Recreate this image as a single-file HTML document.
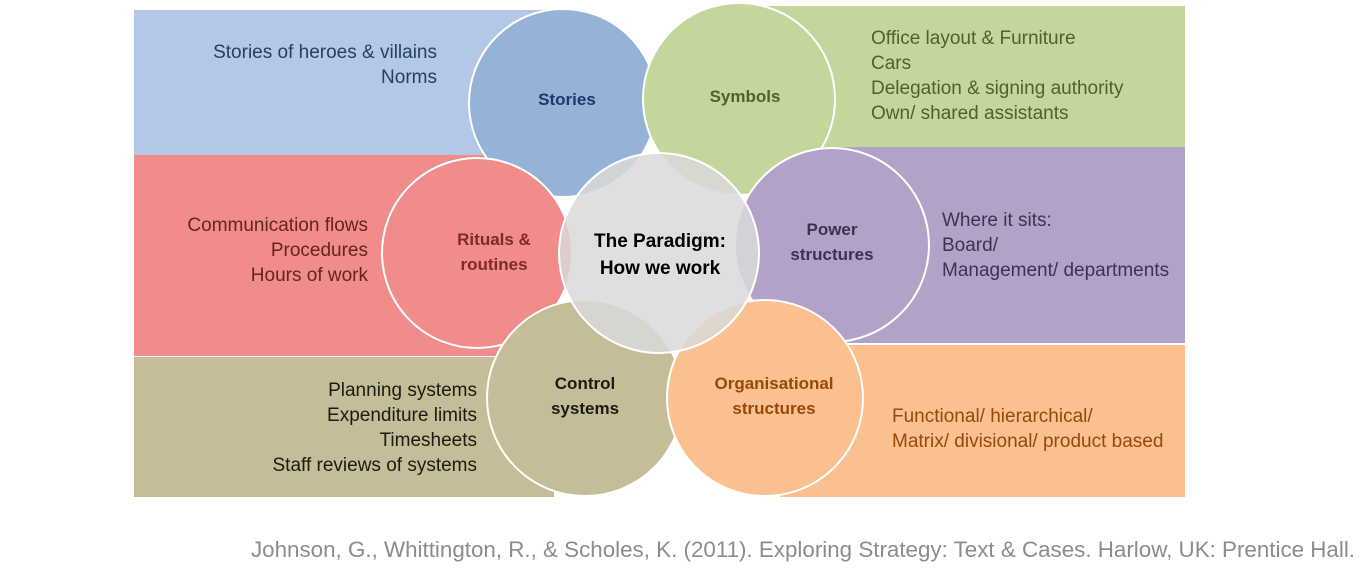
<!DOCTYPE html>
<html><head><meta charset="utf-8"><style>
body{margin:0;background:#fff;width:1371px;height:580px;overflow:hidden}
svg{display:block}
text{font-family:"Liberation Sans",sans-serif}
</style></head><body>
<svg width="1371" height="580" viewBox="0 0 1371 580">
<rect x="134" y="10" width="430" height="145" fill="#b4c7e7"/>
<rect x="720" y="6" width="465" height="141" fill="#c3d69b"/>
<rect x="134" y="155" width="400" height="201" fill="#f08c89"/>
<rect x="800" y="147" width="385" height="196" fill="#b3a2c7"/>
<rect x="134" y="357" width="420" height="140" fill="#c4bd97"/>
<rect x="780" y="345" width="405" height="152" fill="#fac090"/>
<g stroke="#fff" stroke-width="2">
<circle cx="563" cy="103" r="94" fill="#95b3d7"/>
<circle cx="739" cy="99" r="96" fill="#c3d69b"/>
<circle cx="832" cy="245" r="97" fill="#b3a2c7"/>
<circle cx="477" cy="253" r="95" fill="#f08c89"/>
<circle cx="585" cy="398" r="98" fill="#c4bd97"/>
<circle cx="765" cy="398" r="98" fill="#fac090"/>
<circle cx="659" cy="253" r="100" fill="#d9d9d9" fill-opacity="0.85"/>
</g>
<g font-size="19">
<text x="437" y="58" text-anchor="end" fill="#254061">Stories of heroes &amp; villains</text>
<text x="437" y="83" text-anchor="end" fill="#254061">Norms</text>
<text x="871" y="44" fill="#4f6228">Office layout &amp; Furniture</text>
<text x="871" y="69" fill="#4f6228">Cars</text>
<text x="871" y="94" fill="#4f6228">Delegation &amp; signing authority</text>
<text x="871" y="119" fill="#4f6228">Own/ shared assistants</text>
<text x="368" y="231" text-anchor="end" fill="#632523">Communication flows</text>
<text x="368" y="256" text-anchor="end" fill="#632523">Procedures</text>
<text x="368" y="281" text-anchor="end" fill="#632523">Hours of work</text>
<text x="942" y="226" fill="#3f3151">Where it sits:</text>
<text x="942" y="251" fill="#3f3151">Board/</text>
<text x="942" y="276" fill="#3f3151">Management/ departments</text>
<text x="477" y="396" text-anchor="end" fill="#1d1b10">Planning systems</text>
<text x="477" y="421" text-anchor="end" fill="#1d1b10">Expenditure limits</text>
<text x="477" y="446" text-anchor="end" fill="#1d1b10">Timesheets</text>
<text x="477" y="471" text-anchor="end" fill="#1d1b10">Staff reviews of systems</text>
<text x="892" y="422" fill="#984807">Functional/ hierarchical/</text>
<text x="892" y="447" fill="#984807">Matrix/ divisional/ product based</text>
</g>
<g font-size="17" font-weight="bold" text-anchor="middle">
<text x="567" y="105" fill="#1f3864">Stories</text>
<text x="745" y="102" fill="#4f6228">Symbols</text>
<text x="494" y="245" fill="#7f2a27">Rituals &amp;</text>
<text x="494" y="270" fill="#7f2a27">routines</text>
<text x="832" y="235" fill="#3f3151">Power</text>
<text x="832" y="260" fill="#3f3151">structures</text>
<text x="585" y="389" fill="#1d1b10">Control</text>
<text x="585" y="414" fill="#1d1b10">systems</text>
<text x="774" y="389" fill="#984807">Organisational</text>
<text x="774" y="414" fill="#984807">structures</text>
</g>
<g font-size="19" font-weight="bold" text-anchor="middle" fill="#000">
<text x="660" y="247">The Paradigm:</text>
<text x="660" y="274">How we work</text>
</g>
<text x="1355" y="557" text-anchor="end" font-size="22" fill="#8c8c8c" textLength="1104" lengthAdjust="spacingAndGlyphs">Johnson, G., Whittington, R., &amp; Scholes, K. (2011). Exploring Strategy: Text &amp; Cases. Harlow, UK: Prentice Hall.</text>
</svg>
</body></html>
